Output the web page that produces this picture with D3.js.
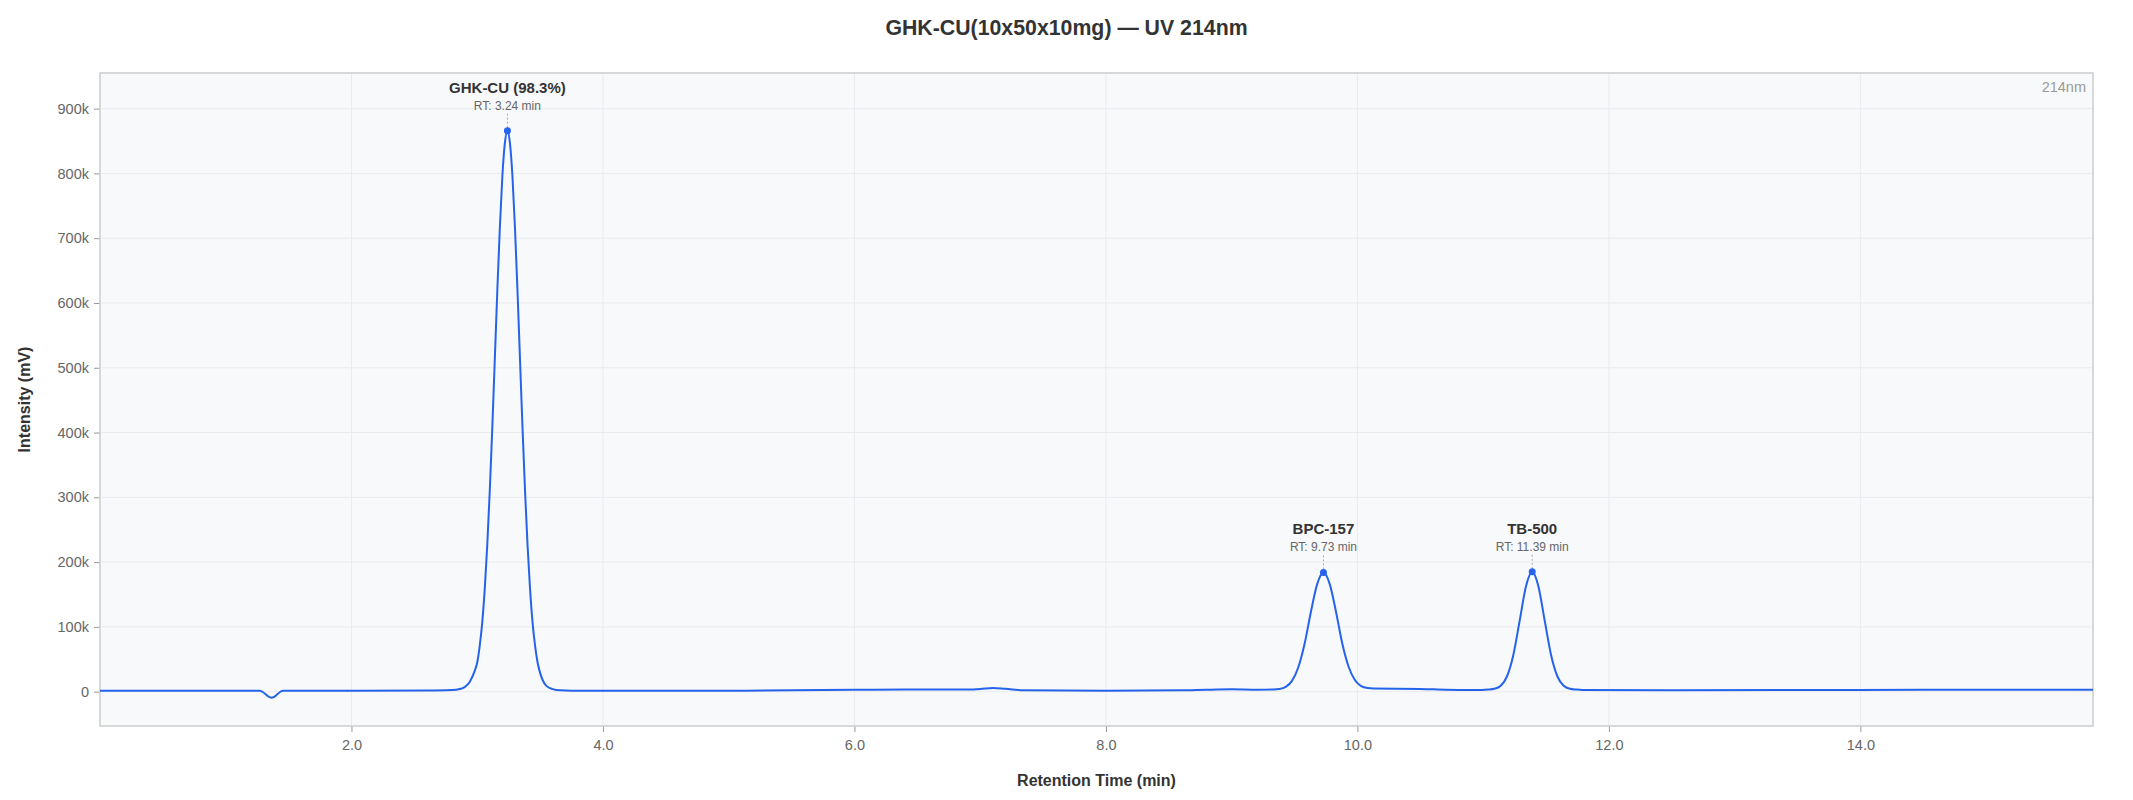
<!DOCTYPE html>
<html>
<head>
<meta charset="utf-8">
<script src="https://cdn.jsdelivr.net/npm/d3@7"></script>
<style>
  html, body { margin: 0; padding: 0; background: #ffffff; }
  svg { display: block; font-family: "Liberation Sans", Arial, Helvetica, sans-serif; }
</style>
</head>
<body>
<svg id="chart" width="2133" height="800"></svg>
<script>
// ---- Data ----
const chartTitle = "GHK-CU(10x50x10mg) \u2014 UV 214nm";
const wavelengthLabel = "214nm";
const xAxisTitle = "Retention Time (min)";
const yAxisTitle = "Intensity (mV)";

// retention time (min)
const times = [
  0.00, 0.60, 1.27, 1.365, 1.455, 2.00, 2.60, 2.80, 2.86, 2.90, 2.94, 2.98,
  3.00, 3.02, 3.04, 3.06, 3.08, 3.10, 3.12, 3.14, 3.16, 3.18, 3.20, 3.22,
  3.24, 3.26, 3.28, 3.30, 3.32, 3.34, 3.36, 3.38, 3.40, 3.42, 3.44, 3.46,
  3.48, 3.50, 3.52, 3.55, 3.60, 3.66, 3.75, 4.00, 5.00, 5.50, 6.00, 6.40,
  6.90, 7.00, 7.10, 7.20, 7.35, 8.00, 8.60, 8.80, 9.00, 9.20, 9.33, 9.38,
  9.43, 9.48, 9.53, 9.58, 9.63, 9.68, 9.73, 9.78, 9.83, 9.88, 9.93, 9.98,
  10.03, 10.08, 10.13, 10.50, 10.70, 10.90, 10.99, 11.04, 11.09, 11.14, 11.19, 11.24,
  11.29, 11.34, 11.39, 11.44, 11.49, 11.54, 11.59, 11.64, 11.69, 11.74, 11.79, 12.50,
  13.50, 14.50, 15.85
];
// detector signal (mV)
const intensity = [
  1500, 1500, 1500, -9500, 1500, 1500, 1800, 2500, 4000, 7000, 15000, 32000,
  45000, 71000, 107000, 159000, 227000, 311000, 408000, 514000, 620000, 717000, 796000, 847000,
  866000, 847000, 796000, 717000, 620000, 514000, 408000, 311000, 227000, 159000, 107000, 71000,
  45000, 29000, 18000, 9000, 4000, 2000, 1500, 1500, 1500, 2000, 2800, 3200,
  3200, 4000, 5800, 4500, 2000, 1500, 2000, 3000, 3600, 3000, 3300, 4100,
  7400, 16700, 37700, 74000, 123000, 166000, 184000, 166000, 123000, 74000, 38500, 18000,
  8500, 5500, 4800, 4300, 3000, 2500, 2600, 3200, 4400, 9100, 23800, 56700,
  109000, 162000, 185000, 162000, 109000, 56700, 23800, 9100, 4400, 3200, 2600, 2300,
  2500, 2800, 3000
];

// annotated peaks
const peakNames = ["GHK-CU (98.3%)", "BPC-157", "TB-500"];
const peakRTs = [3.24, 9.73, 11.39];

// axes
const xDomain = [0, 15.85];
const yDomain = [-53000, 955000];
const xTickValues = [2, 4, 6, 8, 10, 12, 14];
const yTickValues = [0, 100000, 200000, 300000, 400000, 500000, 600000, 700000, 800000, 900000];

// ---- Drawing ----
const W = 2133, H = 800;
const margin = { top: 73, right: 40, bottom: 74, left: 100 };
const iw = W - margin.left - margin.right;
const ih = H - margin.top - margin.bottom;

const svg = d3.select("#chart");
const data = times.map((t, i) => ({ t, v: intensity[i] }));

const x = d3.scaleLinear().domain(xDomain).range([0, iw]);
const y = d3.scaleLinear().domain(yDomain).range([ih, 0]);

// title
svg.append("text")
  .attr("x", W / 2).attr("y", 35)
  .attr("text-anchor", "middle")
  .attr("font-size", 21.3).attr("font-weight", "bold").attr("fill", "#333")
  .text(chartTitle);

const g = svg.append("g").attr("transform", `translate(${margin.left},${margin.top})`);

// plot background
g.append("rect").attr("width", iw).attr("height", ih).attr("fill", "#f8f9fb");

// grid
g.append("g").selectAll("line").data(yTickValues).join("line")
  .attr("x1", 0).attr("x2", iw)
  .attr("y1", d => y(d)).attr("y2", d => y(d))
  .attr("stroke", "#e9ebef").attr("stroke-width", 1);
g.append("g").selectAll("line").data(xTickValues).join("line")
  .attr("y1", 0).attr("y2", ih)
  .attr("x1", d => x(d)).attr("x2", d => x(d))
  .attr("stroke", "#e9ebef").attr("stroke-width", 1);

// axes
const yAxis = d3.axisLeft(y).tickValues(yTickValues).tickSize(6).tickPadding(5)
  .tickFormat(d => d === 0 ? "0" : (d / 1000) + "k");
const yg = g.append("g").call(yAxis);
yg.select(".domain").remove();
yg.selectAll(".tick line").attr("stroke", "#999");
yg.selectAll(".tick text").attr("fill", "#666").attr("font-size", 14.5)
  .attr("font-family", "Liberation Sans, Arial, sans-serif");

const xAxis = d3.axisBottom(x).tickValues(xTickValues).tickSize(6).tickPadding(8)
  .tickFormat(d3.format(".1f"));
const xg = g.append("g").attr("transform", `translate(0,${ih})`).call(xAxis);
xg.select(".domain").remove();
xg.selectAll(".tick line").attr("stroke", "#999");
xg.selectAll(".tick text").attr("fill", "#666").attr("font-size", 14.5)
  .attr("font-family", "Liberation Sans, Arial, sans-serif");

// border
g.append("rect").attr("width", iw).attr("height", ih)
  .attr("fill", "none").attr("stroke", "#cccccc").attr("stroke-width", 1.5);

// clip
g.append("clipPath").attr("id", "clip").append("rect").attr("width", iw).attr("height", ih);

// trace
const line = d3.line().x(d => x(d.t)).y(d => y(d.v)).curve(d3.curveMonotoneX);
g.append("path").datum(data)
  .attr("clip-path", "url(#clip)")
  .attr("fill", "none").attr("stroke", "#2563eb").attr("stroke-width", 2)
  .attr("stroke-linejoin", "round")
  .attr("d", line);

// peak annotations
peakRTs.forEach((rt, i) => {
  const nearest = data.reduce((a, b) => Math.abs(b.t - rt) < Math.abs(a.t - rt) ? b : a);
  const px = x(rt), py = y(nearest.v);
  g.append("line")
    .attr("x1", px).attr("x2", px).attr("y1", py - 17).attr("y2", py)
    .attr("stroke", "#aaa").attr("stroke-width", 1).attr("stroke-dasharray", "2,2");
  g.append("circle").attr("cx", px).attr("cy", py).attr("r", 3.5).attr("fill", "#2563eb");
  g.append("text").attr("x", px).attr("y", py - 38)
    .attr("text-anchor", "middle").attr("font-size", 15).attr("font-weight", "bold").attr("fill", "#333")
    .text(peakNames[i]);
  g.append("text").attr("x", px).attr("y", py - 21)
    .attr("text-anchor", "middle").attr("font-size", 12).attr("fill", "#666")
    .text("RT: " + rt.toFixed(2) + " min");
});

// wavelength tag
g.append("text").attr("x", iw - 7).attr("y", 19)
  .attr("text-anchor", "end").attr("font-size", 14.5).attr("fill", "#999")
  .text(wavelengthLabel);

// axis titles
svg.append("text")
  .attr("transform", `translate(30,${margin.top + ih / 2}) rotate(-90)`)
  .attr("text-anchor", "middle").attr("font-size", 16).attr("font-weight", "bold").attr("fill", "#333")
  .text(yAxisTitle);
svg.append("text")
  .attr("x", margin.left + iw / 2).attr("y", 786)
  .attr("text-anchor", "middle").attr("font-size", 16).attr("font-weight", "bold").attr("fill", "#333")
  .text(xAxisTitle);
</script>
</body>
</html>
